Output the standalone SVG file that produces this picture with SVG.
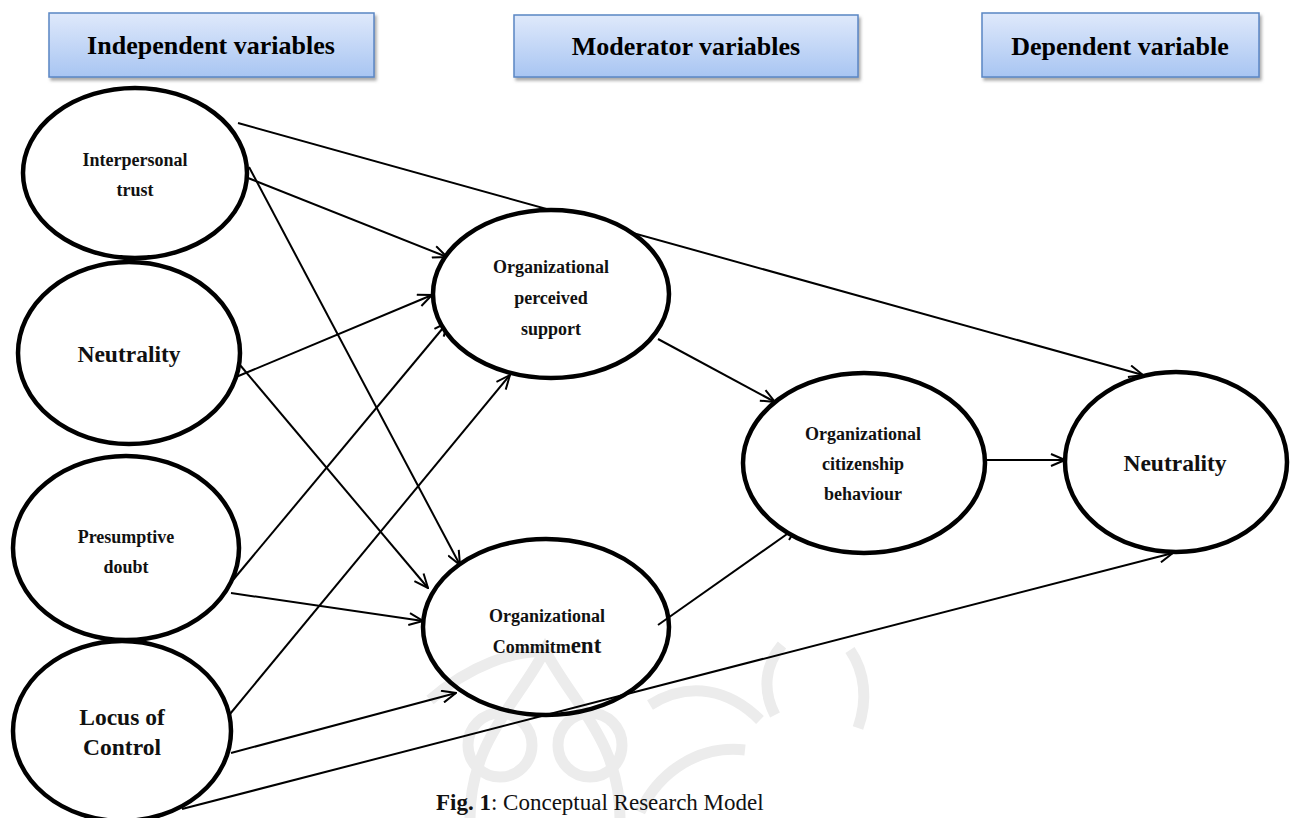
<svg xmlns="http://www.w3.org/2000/svg" width="1294" height="818" viewBox="0 0 1294 818">
<style>
.hdr{fill:url(#hg);stroke:#5a86c4;stroke-width:1.5;filter:url(#sh)}
.ht{font-family:"Liberation Serif","Times New Roman",serif;font-weight:bold;font-size:26px;fill:#000;text-anchor:middle}
.node{fill:#fff;stroke:#000;stroke-width:4.5}
.t18{font-family:"Liberation Serif","Times New Roman",serif;font-weight:bold;font-size:18px;fill:#111;text-anchor:middle}
.t24{font-family:"Liberation Serif","Times New Roman",serif;font-weight:bold;font-size:23.5px;fill:#111;text-anchor:middle}
.edge{fill:none;stroke:#000;stroke-width:2;marker-end:url(#ah)}
.wm{fill:none;stroke:#ececec;stroke-width:11}
.cap{font-family:"Liberation Serif","Times New Roman",serif;font-size:23px;fill:#111}
</style>
<defs>
<linearGradient id="hg" x1="0" y1="0" x2="0" y2="1">
<stop offset="0" stop-color="#dfe9fb"/>
<stop offset="1" stop-color="#a8c5f2"/>
</linearGradient>
<filter id="sh" x="-10%" y="-20%" width="125%" height="150%">
<feDropShadow dx="2" dy="3" stdDeviation="1.5" flood-color="#666" flood-opacity="0.55"/>
</filter>
<marker id="ah" viewBox="0 0 16 14" markerWidth="16" markerHeight="14" refX="15" refY="7" orient="auto" markerUnits="userSpaceOnUse">
<path d="M1,1 L15,7 L1,13" fill="none" stroke="#000" stroke-width="2"/>
</marker>
</defs>
<rect width="1294" height="818" fill="#fff"/>
<g id="watermark">
<path class="wm" d="M470,818 C470,740 520,700 545,650 C570,700 620,740 620,818"/>
<circle class="wm" cx="500" cy="745" r="32"/>
<circle class="wm" cx="590" cy="745" r="32"/>
<path class="wm" d="M430,700 C470,665 515,650 545,652"/>
<path class="wm" d="M650,705 C690,680 730,690 760,720"/>
<path class="wm" d="M640,812 C660,770 700,745 745,750"/>
<path class="wm" d="M782,645 C765,665 762,690 775,715"/>
<path class="wm" d="M850,650 C865,672 868,700 858,728"/>
</g>
<g id="header-independent">
<rect class="hdr" x="49" y="13" width="325" height="64"/>
<text class="ht" x="211" y="54">Independent variables</text>
</g>
<g id="header-moderator">
<rect class="hdr" x="514" y="15" width="344" height="62"/>
<text class="ht" x="686" y="55">Moderator variables</text>
</g>
<g id="header-dependent">
<rect class="hdr" x="982" y="13" width="277" height="64"/>
<text class="ht" x="1120" y="55">Dependent variable</text>
</g>
<g id="connectors">
<line class="edge" x1="238" y1="123" x2="1143" y2="375"/>
<line class="edge" x1="248" y1="178" x2="447" y2="257"/>
<line class="edge" x1="249" y1="167" x2="460" y2="565"/>
<line class="edge" x1="236" y1="377" x2="432" y2="295"/>
<line class="edge" x1="240" y1="365" x2="428" y2="588"/>
<line class="edge" x1="233" y1="580" x2="448" y2="322"/>
<line class="edge" x1="231" y1="593" x2="423" y2="621"/>
<line class="edge" x1="230" y1="714" x2="510" y2="375"/>
<line class="edge" x1="231" y1="753" x2="456" y2="693"/>
<line class="edge" x1="182" y1="809" x2="1173" y2="553"/>
<line class="edge" x1="658" y1="339" x2="775" y2="402"/>
<line class="edge" x1="658" y1="625" x2="797" y2="527"/>
<line class="edge" x1="986" y1="460" x2="1065" y2="460"/>
</g>
<g id="node-interpersonal-trust">
<ellipse class="node" cx="135" cy="173" rx="112" ry="85" fill-opacity="0"/>
<text class="t18" x="135" y="166">Interpersonal</text>
<text class="t18" x="135" y="196">trust</text>
</g>
<g id="node-neutrality-left">
<ellipse class="node" cx="129" cy="353" rx="111" ry="91"/>
<text class="t24" x="129" y="362">Neutrality</text>
</g>
<g id="node-presumptive-doubt">
<ellipse class="node" cx="126" cy="548" rx="113" ry="92"/>
<text class="t18" x="126" y="543">Presumptive</text>
<text class="t18" x="126" y="573">doubt</text>
</g>
<g id="node-locus-of-control">
<ellipse class="node" cx="122" cy="731" rx="109" ry="90"/>
<text class="t24" x="122" y="725">Locus of</text>
<text class="t24" x="122" y="755">Control</text>
</g>
<g id="node-perceived-support">
<ellipse class="node" cx="551" cy="294" rx="118" ry="84"/>
<text class="t18" x="551" y="273">Organizational</text>
<text class="t18" x="551" y="304">perceived</text>
<text class="t18" x="551" y="335">support</text>
</g>
<g id="node-commitment">
<ellipse class="node" cx="546" cy="627" rx="123" ry="88" fill-opacity="0" stroke="#1c1c1c"/>
<text class="t18" x="547" y="622" fill="#222">Organizational</text>
<text class="t18" x="547" y="653" fill="#222">Commitm<tspan font-size="23px">ent</tspan></text>
</g>
<g id="node-ocb">
<ellipse class="node" cx="864" cy="463" rx="121" ry="90"/>
<text class="t18" x="863" y="440">Organizational</text>
<text class="t18" x="863" y="470">citizenship</text>
<text class="t18" x="863" y="500">behaviour</text>
</g>
<g id="node-neutrality-right">
<ellipse class="node" cx="1176" cy="462" rx="111" ry="90"/>
<text class="t24" x="1175" y="471">Neutrality</text>
</g>
<g id="caption">
<text class="cap" x="436" y="810"><tspan font-weight="bold">Fig. 1</tspan>: Conceptual Research Model</text>
</g>
</svg>
